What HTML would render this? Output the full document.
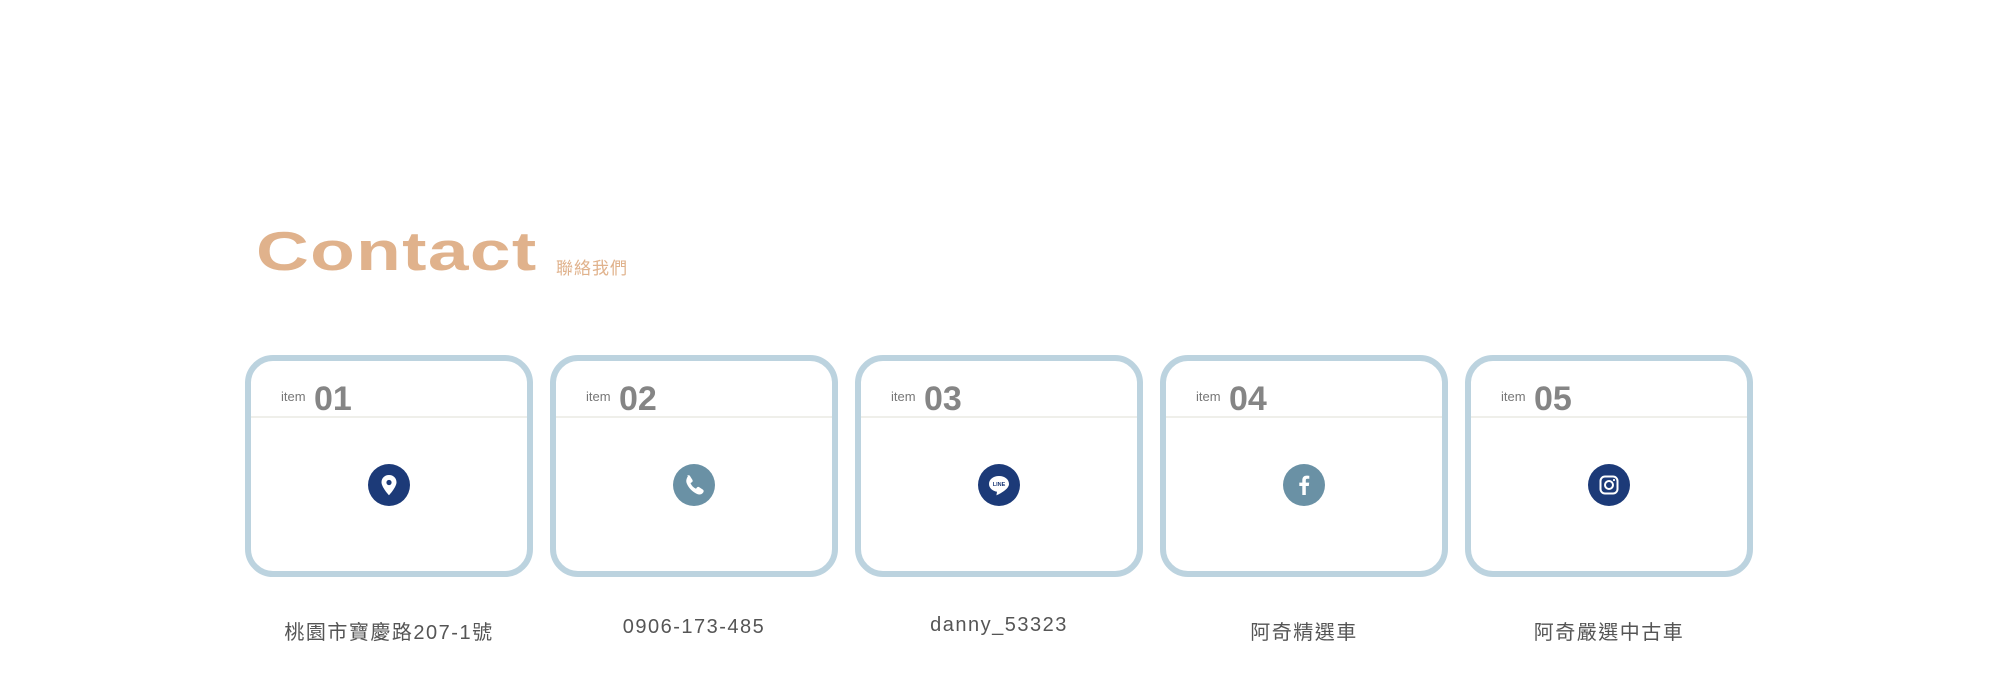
<!DOCTYPE html>
<html><head><meta charset="utf-8"><style>
html,body{margin:0;padding:0;background:#fff;}
body{width:2000px;height:700px;position:relative;overflow:hidden;font-family:"Liberation Sans","Noto Sans CJK TC",sans-serif;}
.title{position:absolute;left:256px;top:219px;font-size:55px;font-weight:bold;color:#e0b28c;transform:scaleX(1.33);transform-origin:left top;letter-spacing:1px;}
.sub{position:absolute;left:556px;top:254px;font-size:17px;color:#e0b28c;letter-spacing:1px;}
.card{position:absolute;top:355px;width:276px;height:210px;border:6px solid #bcd3df;border-radius:28px;}
.card .hd{position:absolute;left:0;right:0;top:0;height:55px;border-bottom:2px solid #efefea;}
.card .it{position:absolute;left:30px;top:28px;font-size:13px;color:#777;}
.card .num{position:absolute;left:63px;top:19px;font-size:34px;font-weight:bold;color:#858585;}
.ic{position:absolute;left:117px;top:103px;width:42px;height:42px;border-radius:50%;}
.dark{background:#1c3a78}.light{background:#6a91a5}
.lab{position:absolute;top:616px;width:288px;text-align:center;font-size:20px;color:#555;letter-spacing:1.5px;}
</style></head><body>
<div class="title">Contact</div>
<div class="sub">聯絡我們</div>

<div class="card" style="left:245px"><div class="hd"></div><span class="it">item</span><span class="num">01</span>
<div class="ic dark"><svg width="42" height="42" viewBox="0 0 42 42"><path d="M21 11c-4.4 0-7.5 3.2-7.5 7.2 0 5 7.5 13 7.5 13s7.5-8 7.5-13c0-4-3.1-7.2-7.5-7.2z" fill="#fff"/><circle cx="21" cy="18.5" r="2.6" fill="#1c3a78"/></svg></div></div>

<div class="card" style="left:550px"><div class="hd"></div><span class="it">item</span><span class="num">02</span>
<div class="ic light"><svg width="42" height="42" viewBox="0 0 42 42"><path d="M14 12c1-1 2.5-1 3 0l2.5 4c.5 1 0 2-1 2.5l-1 .6c1 2.5 3 4.5 5.5 5.7l.7-1c.6-.9 1.6-1.2 2.4-.7l3.8 2.5c1 .6 1 2 .2 3-1.6 2-3.7 2.4-6 1.4-4.5-2-8.3-5.8-10.3-10.5-.8-2.2-.8-4.3 1.2-7.5z" fill="#fff"/></svg></div></div>

<div class="card" style="left:855px"><div class="hd"></div><span class="it">item</span><span class="num">03</span>
<div class="ic dark"><svg width="42" height="42" viewBox="0 0 42 42"><path d="M21 12c-6 0-10 3.5-10 8 0 4 3.5 7 8 7.8l-.6 3.6c3.5-1.6 12.6-6.3 12.6-11.4 0-4.5-4-8-10-8z" fill="#fff"/><text x="21" y="22" font-size="5.5" text-anchor="middle" fill="#1c3a78" font-family="Liberation Sans" font-weight="bold">LINE</text></svg></div></div>

<div class="card" style="left:1160px"><div class="hd"></div><span class="it">item</span><span class="num">04</span>
<div class="ic light"><svg width="42" height="42" viewBox="0 0 42 42"><path d="M22.8 31V22h3l.4-3.4h-3.4v-2.2c0-1 .3-1.6 1.7-1.6h1.8v-3c-.3 0-1.4-.2-2.6-.2-2.6 0-4.4 1.6-4.4 4.5v2.5h-3V22h3v9z" fill="#fff"/></svg></div></div>

<div class="card" style="left:1465px"><div class="hd"></div><span class="it">item</span><span class="num">05</span>
<div class="ic dark"><svg width="42" height="42" viewBox="0 0 42 42"><rect x="12.5" y="12.5" width="17" height="17" rx="4.5" fill="none" stroke="#fff" stroke-width="2"/><circle cx="21" cy="21" r="4" fill="none" stroke="#fff" stroke-width="2"/><circle cx="26" cy="16" r="1.1" fill="#fff"/></svg></div></div>

<div class="lab" style="left:245px">桃園市寶慶路207-1號</div>
<div class="lab" style="left:550px">0906-173-485</div>
<div class="lab" style="left:855px;top:614px">danny_53323</div>
<div class="lab" style="left:1160px">阿奇精選車</div>
<div class="lab" style="left:1465px">阿奇嚴選中古車</div>
</body></html>
